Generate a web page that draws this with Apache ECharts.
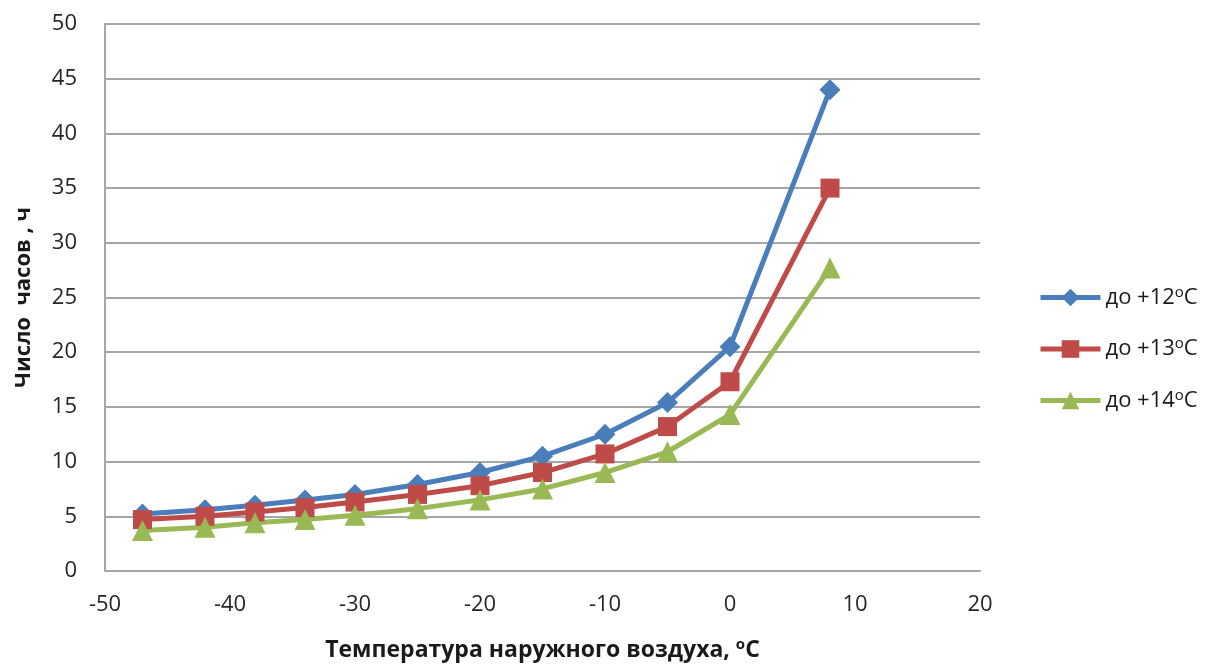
<!DOCTYPE html>
<html>
<head>
<meta charset="utf-8">
<script src="https://cdn.jsdelivr.net/npm/echarts@6/dist/echarts.min.js"></script>
<style>
  html, body { margin: 0; padding: 0; background: #fff; }
  #chart { width: 1210px; height: 666px; }
</style>
</head>
<body>
<div id="chart"></div>
<script>
// температура наружного воздуха, °C
const temps = [-47, -42, -38, -34, -30, -25, -20, -15, -10, -5, 0, 8];
// число часов для каждого порога
const to12 = [5.2, 5.6, 6.0, 6.5, 7.0, 7.9, 9.0, 10.5, 12.5, 15.4, 20.5, 44];
const to13 = [4.7, 5.0, 5.4, 5.8, 6.3, 7.0, 7.8, 9.0, 10.7, 13.2, 17.3, 35];
const to14 = [3.7, 4.0, 4.4, 4.7, 5.1, 5.7, 6.5, 7.5, 9.0, 10.9, 14.3, 27.7];
const seriesNames = ['до +12', 'до +13', 'до +14'];

const font = '"Open Sans", "Noto Sans", sans-serif';
const colors = ['#4A7EBB', '#BE4B48', '#98B954'];
const symbols = ['diamond', 'rect', 'triangle'];
const symbolSizes = [21, 19, 21];

const pairs = arr => temps.map((t, i) => [t, arr[i]]);

const chart = echarts.init(document.getElementById('chart'));
chart.setOption({
  animation: false,
  grid: {
    left: 105,
    right: 230,
    top: 24,
    bottom: 95,
    containLabel: false,
    outerBoundsMode: 'none'
  },
  legend: {
    orient: 'vertical',
    left: 1033,
    top: 280,
    itemGap: 28,
    itemWidth: 60,
    itemHeight: 22,
    data: seriesNames,
    lineStyle: { width: 5 },
    formatter: name => name + '{sup|o}C',
    textStyle: {
      fontFamily: font,
      fontSize: 22,
      color: '#1a1a1a',
      rich: {
        sup: { fontFamily: font, fontSize: 15, color: '#1a1a1a', verticalAlign: 'top', padding: [0, 0, 10, 0] }
      }
    }
  },
  xAxis: {
    type: 'value',
    min: -50,
    max: 20,
    interval: 10,
    name: 'Температура наружного воздуха, {sup|o}C',
    nameLocation: 'middle',
    nameGap: 66,
    nameTextStyle: {
      fontFamily: font,
      fontSize: 23,
      fontWeight: 'bold',
      color: '#1a1a1a',
      rich: {
        sup: { fontFamily: font, fontSize: 15, fontWeight: 'bold', color: '#1a1a1a', verticalAlign: 'top', padding: [0, 0, 11, 0] }
      }
    },
    axisLine: { show: true, lineStyle: { color: '#A6A6A6', width: 2 } },
    axisTick: { show: false },
    splitLine: { show: false },
    axisLabel: {
      margin: 23,
      fontFamily: font,
      fontSize: 22,
      color: '#262626'
    }
  },
  yAxis: {
    type: 'value',
    min: 0,
    max: 50,
    interval: 5,
    name: 'Число  часов , ч',
    nameLocation: 'middle',
    nameGap: 70,
    nameTextStyle: {
      fontFamily: font,
      fontSize: 22,
      fontWeight: 'bold',
      color: '#1a1a1a'
    },
    axisLine: { show: true, onZero: false, lineStyle: { color: '#A6A6A6', width: 2 } },
    axisTick: { show: false },
    splitLine: { show: true, lineStyle: { color: '#A6A6A6', width: 2 } },
    axisLabel: {
      margin: 28,
      fontFamily: font,
      fontSize: 22,
      color: '#262626'
    }
  },
  series: [to12, to13, to14].map((arr, i) => ({
    name: seriesNames[i],
    type: 'line',
    data: pairs(arr),
    symbol: symbols[i],
    symbolSize: symbolSizes[i],
    showAllSymbol: true,
    lineStyle: { color: colors[i], width: 5 },
    itemStyle: { color: colors[i] }
  }))
});
</script>
</body>
</html>
